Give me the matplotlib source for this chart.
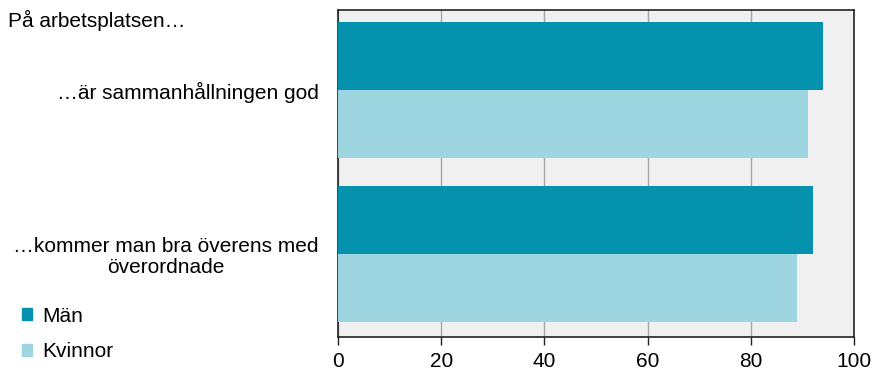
import matplotlib.pyplot as plt
import numpy as np
from matplotlib.patches import Patch

plt.rcParams['font.family'] = ['Liberation Sans', 'DejaVu Sans']

categories = ['…är sammanhållningen god', '…kommer man bra överens med\növerordnade']
series_names = ['Män', 'Kvinnor']
man_values = [94, 92]
kvinnor_values = [91, 89]
x_ticks = [0, 20, 40, 60, 80, 100]

color_man = '#0592ae'
color_kvinnor = '#9dd5e0'
fs = 15

fig = plt.figure(figsize=(8.82, 3.74), dpi=100)
ax = fig.add_axes([338 / 882, 1 - 337 / 374, (854 - 338) / 882, (337 - 10) / 374])
ax.set_facecolor('#f0f0f0')

y = np.arange(len(categories))
h = 0.415
ax.barh(y - h / 2, man_values, height=h, color=color_man, zorder=3)
ax.barh(y + h / 2, kvinnor_values, height=h, color=color_kvinnor, zorder=3)

ax.set_xlim(0, 100)
ax.set_ylim(1.506, -0.488)
ax.set_xticks(x_ticks)
ax.set_xticklabels([str(t) for t in x_ticks], fontsize=fs)
ax.tick_params(axis='x', length=6, width=1, color='#222222', pad=5)
ax.set_yticks(y)
ax.set_yticklabels(categories, fontsize=fs, multialignment='center', linespacing=1.15)
ax.tick_params(axis='y', length=0, pad=14)
ax.grid(axis='x', color='#a6a6a6', linewidth=1, zorder=0)
ax.set_axisbelow(True)
for s in ax.spines.values():
    s.set_color('#222222')
    s.set_linewidth(1.2)

fig.text(8 / 882, 1 - 20 / 374, 'På arbetsplatsen…', fontsize=fs, va='center', ha='left')

handles = [Patch(color=color_man), Patch(color=color_kvinnor)]
fig.legend(handles, series_names, loc='center left', bbox_to_anchor=(22 / 882, 1 - 334 / 374),
           frameon=False, fontsize=fs, handlelength=0.5, handleheight=0.5,
           handletextpad=0.48, labelspacing=0.8, borderpad=0, borderaxespad=0)

fig.savefig('out.png', dpi=100)
